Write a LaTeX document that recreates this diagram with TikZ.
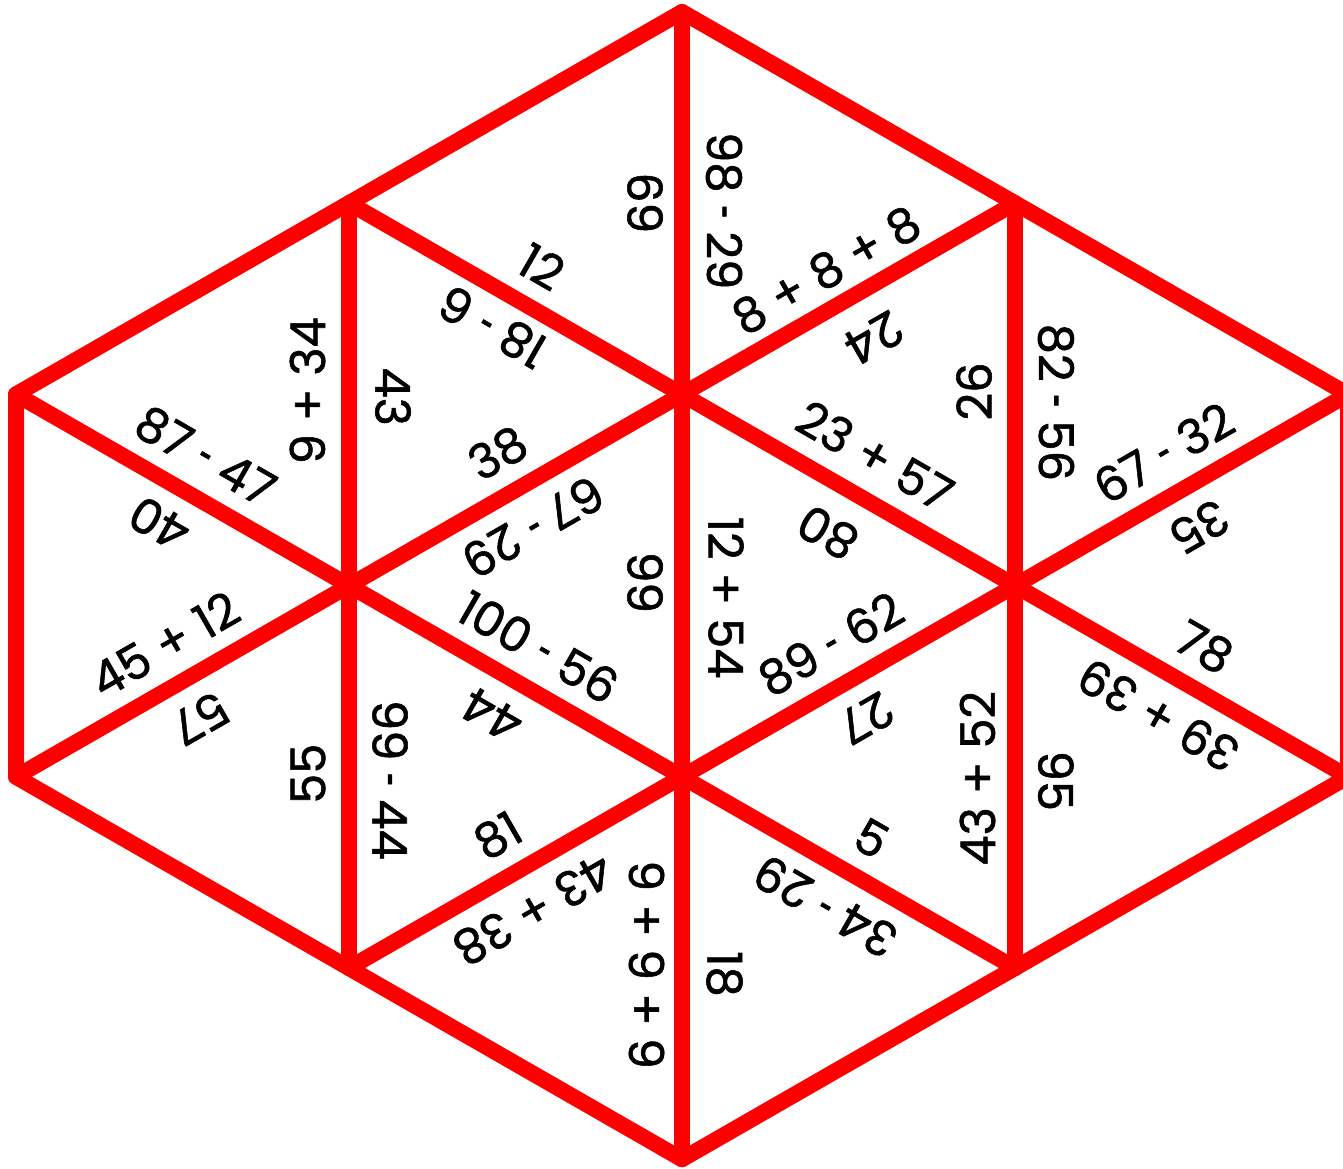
\documentclass[tikz,border=0pt]{standalone}
\usepackage{fontspec}
\setmainfont{Poppins}[FakeBold=1.2]
\usetikzlibrary{calc}
\definecolor{puzzred}{RGB}{255,0,0}
\tikzset{
  grid/.style={draw=puzzred, line width=16pt, line cap=round, line join=round},
  lab/.style={font=\fontsize{48}{58}\selectfont, inner sep=0pt, anchor=center, text=black},
}
\newcommand\hy{\scalebox{0.5}[1]{-}}
% #1 name, #2 from, #3 to (reading direction), #4 text, #5 distance from edge, #6 shift along
\newcommand\edgelabx[6]{%
  \path let \p1=($(#3)-(#2)$), \n1={atan2(\y1,\x1)} in
    node[lab, rotate=\n1] (#1) at ($(#2)!0.5!(#3)!#6!(#3)!#5!90:(#3)$) {#4};}
\newcommand\edgelab[4]{\edgelabx{#1}{#2}{#3}{#4}{41pt}{3pt}}
\begin{document}
\begin{tikzpicture}[x=1pt,y=1pt]
\useasboundingbox (0,0) rectangle (1343,1168);
\coordinate (a) at (682,1156);
\coordinate (b1) at (349,964.8);
\coordinate (b2) at (1015,964.8);
\coordinate (c1) at (16,773.6);
\coordinate (c2) at (682,773.6);
\coordinate (c3) at (1348,773.6);
\coordinate (d1) at (349,582.4);
\coordinate (d2) at (1015,582.4);
\coordinate (e1) at (16,391.2);
\coordinate (e2) at (682,391.2);
\coordinate (e3) at (1348,391.2);
\coordinate (f1) at (349,200);
\coordinate (f2) at (1015,200);
\coordinate (g) at (682,8.8);
% grid lines
\draw[grid] (a) -- (b2) -- (c3) -- (e3) -- (f2) -- (g) -- (f1) -- (e1) -- (c1) -- (b1) -- cycle;
\draw[grid] (b1) -- (f1);
\draw[grid] (a) -- (g);
\draw[grid] (b2) -- (f2);
\draw[grid] (b1) -- (e3);
\draw[grid] (c1) -- (f2);
\draw[grid] (b2) -- (e1);
\draw[grid] (c3) -- (f1);
% vertical edges
\edgelabx{l1}{c2}{a}{69}{37pt}{0pt}
\edgelabx{l2}{a}{c2}{98 \hy{} 29}{42pt}{7.5pt}
\edgelabx{l3}{e2}{c2}{66}{37pt}{2.8pt}
\edgelabx{l4}{c2}{e2}{12 + 54}{44pt}{12pt}
\edgelabx{l5}{g}{e2}{6 + 6 + 6}{35.5pt}{3pt}
\edgelabx{l6}{e2}{g}{18}{42.5pt}{6pt}
\edgelabx{l7}{d1}{b1}{9 + 34}{41.5pt}{3.6pt}
\edgelabx{l8}{b1}{d1}{43}{44pt}{2.3pt}
\edgelab{l9}{f1}{d1}{55}
\edgelab{l10}{d1}{f1}{99 \hy{} 44}
\edgelab{l11}{d2}{b2}{26}
\edgelabx{l12}{b2}{d2}{82 \hy{} 56}{41pt}{8pt}
\edgelabx{l13}{f2}{d2}{43 + 52}{37.5pt}{-1.5pt}
\edgelabx{l14}{d2}{f2}{95}{40.8pt}{4pt}
% down-right edges
\edgelabx{l15}{b1}{c2}{12}{41pt}{6.7pt}
\edgelabx{l16}{c2}{b1}{18 \hy{} 6}{35.4pt}{5.6pt}
\edgelabx{l17}{c2}{d2}{23 + 57}{43pt}{5.9pt}
\edgelabx{l18}{d2}{c2}{80}{47pt}{-3.4pt}
\edgelab{l19}{d2}{e3}{78}
\edgelab{l20}{e3}{d2}{39 + 39}
\edgelab{l21}{c1}{d1}{87 \hy{} 47}
\edgelab{l22}{d1}{c1}{40}
\edgelab{l23}{d1}{e2}{100 \hy{} 56}
\edgelab{l24}{e2}{d1}{44}
\edgelab{l25}{e2}{f2}{5}
\edgelab{l26}{f2}{e2}{34 \hy{} 29}
% up-right edges
\edgelabx{l27}{c2}{b2}{8 + 8 + 8}{36pt}{-5pt}
\edgelabx{l28}{b2}{c2}{24}{46.7pt}{-2.6pt}
\edgelab{l29}{d1}{c2}{38}
\edgelab{l30}{c2}{d1}{67 \hy{} 29}
\edgelab{l31}{e1}{d1}{45 + 12}
\edgelab{l32}{d1}{e1}{57}
\edgelab{l33}{d2}{c3}{67 \hy{} 32}
\edgelab{l34}{c3}{d2}{35}
\edgelab{l35}{e2}{d2}{89 \hy{} 62}
\edgelab{l36}{d2}{e2}{27}
\edgelab{l37}{f1}{e2}{81}
\edgelab{l38}{e2}{f1}{43 + 38}
\end{tikzpicture}
\end{document}
